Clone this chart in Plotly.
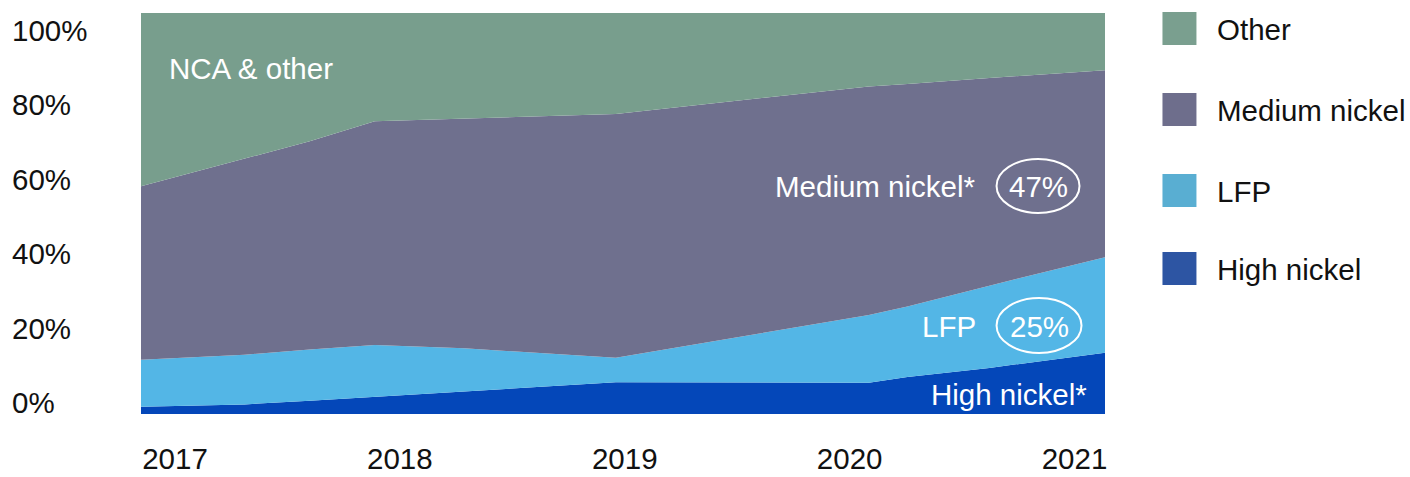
import plotly.graph_objects as go

# ---- data (shares in %) ----
x_years = [2017.0, 2017.43, 2017.70, 2017.97, 2018.34, 2018.97, 2020.02, 2020.18, 2020.52, 2021.0]
high_nickel = [1.8, 2.4, 3.3, 4.3, 5.6, 7.9, 7.8, 9.2, 11.5, 15.3]
lfp = [11.7, 12.4, 12.8, 12.9, 10.8, 6.1, 16.9, 17.6, 20.5, 23.8]
medium_nickel = [43.3, 48.9, 51.9, 55.8, 57.2, 60.8, 57.0, 55.5, 51.8, 46.6]
other = [43.2, 36.3, 32.0, 27.0, 26.4, 25.2, 18.3, 17.7, 16.2, 14.3]

year_ticks = [2017, 2018, 2019, 2020, 2021]
year_labels = ["2017", "2018", "2019", "2020", "2021"]
pct_ticks = [0, 20, 40, 60, 80, 100]
pct_labels = ["0%", "20%", "40%", "60%", "80%", "100%"]

legend_names = ["Other", "Medium nickel", "LFP", "High nickel"]
legend_colors = ["#7a9f8f", "#6e6e8c", "#59aed2", "#2d55a3"]

# ---- layout geometry ----
W, H = 1410, 477
L, R, T, B = 141, 1105.5, 13, 414
FONT = "Liberation Sans, Arial, Helvetica, sans-serif"
FS = 29.5


def px(xp):
    return (xp - L) / (R - L)


def py(yp):
    return (B - yp) / (B - T)


fig = go.Figure()
series = [
    ("High nickel", high_nickel, "#0447b9"),
    ("LFP", lfp, "#53b6e6"),
    ("Medium nickel", medium_nickel, "#6f708e"),
    ("Other", other, "#789e8d"),
]
for name, vals, col in series:
    fig.add_trace(go.Scatter(
        x=x_years, y=vals, name=name, stackgroup="one", mode="lines",
        line=dict(width=0, color=col), fillcolor=col, showlegend=False,
        hoverinfo="skip",
    ))

# invisible helper trace for the label axes
fig.add_trace(go.Scatter(x=year_ticks, y=[0] * len(year_ticks), xaxis="x2", yaxis="y2",
                         mode="markers", marker=dict(opacity=0), showlegend=False,
                         hoverinfo="skip"))

shapes = []
annotations = []

# y tick labels (left aligned)
for v, lab in zip(pct_ticks, pct_labels):
    annotations.append(dict(x=px(10), xref="paper", y=v, yref="y2", text=lab,
                            showarrow=False, xanchor="left", yanchor="middle",
                            font=dict(size=FS, color="#111111", family=FONT)))

# in-plot labels
white = dict(size=FS, color="white", family=FONT)
annotations += [
    dict(x=px(167), y=py(68), xref="paper", yref="paper", text="NCA & other",
         showarrow=False, xanchor="left", yanchor="middle", font=white),
    dict(x=px(978), y=py(186), xref="paper", yref="paper", text="Medium nickel*",
         showarrow=False, xanchor="right", yanchor="middle", font=white),
    dict(x=px(1038.5), y=py(186), xref="paper", yref="paper", text="47%",
         showarrow=False, xanchor="center", yanchor="middle", font=white),
    dict(x=px(978), y=py(326), xref="paper", yref="paper", text="LFP",
         showarrow=False, xanchor="right", yanchor="middle", font=white),
    dict(x=px(1039.5), y=py(326), xref="paper", yref="paper", text="25%",
         showarrow=False, xanchor="center", yanchor="middle", font=white),
    dict(x=px(1089), y=py(394), xref="paper", yref="paper", text="High nickel*",
         showarrow=False, xanchor="right", yanchor="middle", font=white),
]
shapes += [
    dict(type="circle", xref="paper", yref="paper", x0=px(997), x1=px(1080),
         y0=py(213), y1=py(159), line=dict(color="white", width=2)),
    dict(type="circle", xref="paper", yref="paper", x0=px(997), x1=px(1082),
         y0=py(353), y1=py(298), line=dict(color="white", width=2)),
]

# custom legend
sw_tops = [12, 93, 174, 252]
for name, col, top in zip(legend_names, legend_colors, sw_tops):
    shapes.append(dict(type="rect", xref="paper", yref="paper", x0=px(1163), x1=px(1197),
                       y0=py(top + 33), y1=py(top), line=dict(width=0), fillcolor=col))
    annotations.append(dict(x=px(1216), y=py(top + 17.5), xref="paper", yref="paper",
                            text=name, showarrow=False, xanchor="left", yanchor="middle",
                            font=dict(size=FS, color="#111111", family=FONT)))

# year axis geometry: 2017 centred at 175 px, 225 px per year
x2_lo = 2017 - (175 - L) / 225
x2_hi = x2_lo + (R - L) / 225
# pct label axis: 0% at 403 px, 3.725 px per unit
y2_lo = -(B - 402.5) / 3.725
y2_hi = y2_lo + (B - T) / 3.725

fig.update_layout(
    width=W, height=H,
    margin=dict(l=L, r=W - R, t=T, b=H - B, autoexpand=False),
    paper_bgcolor="white", plot_bgcolor="white",
    xaxis=dict(range=[2017, 2021], visible=False, fixedrange=True),
    yaxis=dict(range=[0, 100], visible=False, fixedrange=True),
    xaxis2=dict(overlaying="x", side="bottom", range=[x2_lo, x2_hi], tickmode="array",
                tickvals=year_ticks, ticktext=year_labels, showgrid=False, zeroline=False,
                showline=False, ticks="outside", ticklen=19, tickcolor="rgba(0,0,0,0)",
                automargin=False, fixedrange=True,
                tickfont=dict(size=FS, color="#111111", family=FONT), anchor="y"),
    yaxis2=dict(overlaying="y", range=[y2_lo, y2_hi], visible=False, fixedrange=True),
    shapes=shapes,
    annotations=annotations,
    showlegend=False,
)

fig.write_html("out.html", config={"displayModeBar": False},
               post_script="document.body.style.margin='0';")
